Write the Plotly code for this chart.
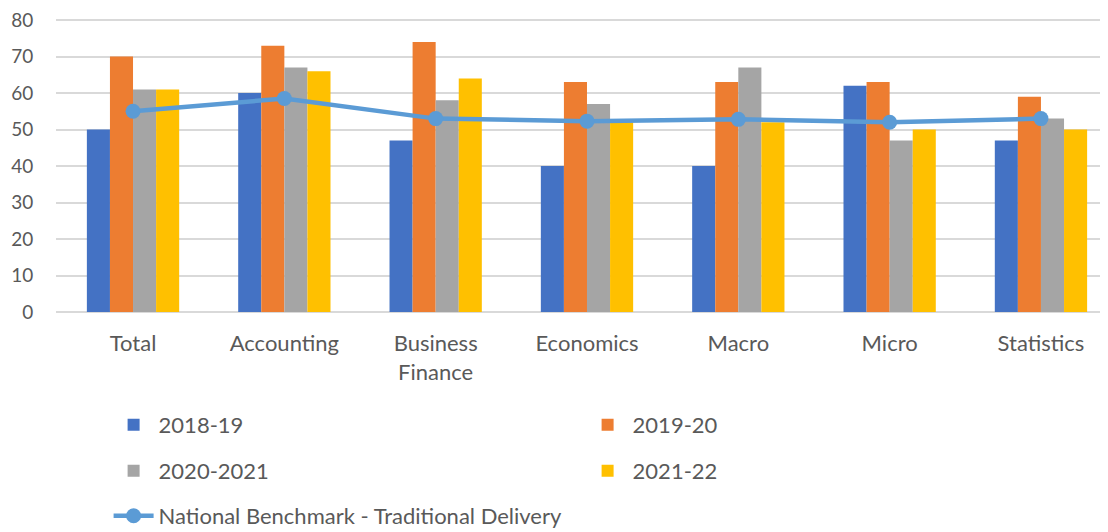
import plotly.graph_objects as go

categories = ["Total", "Accounting", "Business<br>Finance", "Economics", "Macro", "Micro", "Statistics"]
s2018_19 = [50, 60, 47, 40, 40, 62, 47]
s2019_20 = [70, 73, 74, 63, 63, 63, 59]
s2020_21 = [61, 67, 58, 57, 67, 47, 53]
s2021_22 = [61, 66, 64, 52, 52, 50, 50]
benchmark = [55, 58.5, 53, 52.3, 52.8, 52, 53]

series_names = ["2018-19", "2019-20", "2020-2021", "2021-22"]
series_vals = [s2018_19, s2019_20, s2020_21, s2021_22]
series_colors = ["#4472C4", "#ED7D31", "#A5A5A5", "#FFC000"]
legend_ids = ["legend", "legend", "legend2", "legend2"]

font_family = "Lato, 'Open Sans', sans-serif"
txt = "#595959"

# page body has an 8px margin; figure sized to fill the rest of the 1108x532 window
W, H = 1100, 524

fig = go.Figure()
for name, vals, col, lg in zip(series_names, series_vals, series_colors, legend_ids):
    fig.add_trace(go.Bar(x=categories, y=vals, name=name, marker_color=col,
                         marker_line_width=0, legend=lg))
fig.add_trace(go.Scatter(x=categories, y=benchmark, name="National Benchmark - Traditional Delivery",
                         mode="lines+markers", line=dict(color="#5B9BD5", width=4.5),
                         marker=dict(size=15, color="#5B9BD5"), legend="legend3"))

leg_common = dict(orientation="h", xanchor="left", yanchor="middle", xref="paper", yref="container",
                  font=dict(family=font_family, size=22, color=txt), entrywidth=419, itemwidth=40,
                  bgcolor="rgba(0,0,0,0)", traceorder="normal")

lx = 0.05
fig.update_layout(
    width=W, height=H,
    margin=dict(l=48, r=0, t=9, b=220),
    paper_bgcolor="white", plot_bgcolor="white",
    barmode="group", bargap=0.39, bargroupgap=0,
    font=dict(family=font_family, size=22, color=txt),
    legend=dict(x=lx, y=(H - 417) / H, **leg_common),
    legend2=dict(x=lx, y=(H - 463) / H, **leg_common),
    legend3=dict(x=lx, y=(H - 508) / H, **leg_common),
    showlegend=True,
)
fig.update_xaxes(range=[-0.509, 6.443], showgrid=False, showline=False, ticks="",
                 tickfont=dict(family=font_family, size=22, color=txt), ticklabelstandoff=16)
fig.update_yaxes(range=[0, 80.3], tickvals=[0, 10, 20, 30, 40, 50, 60, 70, 80],
                 showgrid=True, gridcolor="#D9D9D9", gridwidth=1.5,
                 zeroline=True, zerolinecolor="#D9D9D9", zerolinewidth=1.5,
                 ticks="outside", ticklen=18, tickcolor="rgba(0,0,0,0)",
                 ticklabeloverflow="allow",
                 tickfont=dict(family=font_family, size=19, color=txt))

fig.write_html("out.html")
